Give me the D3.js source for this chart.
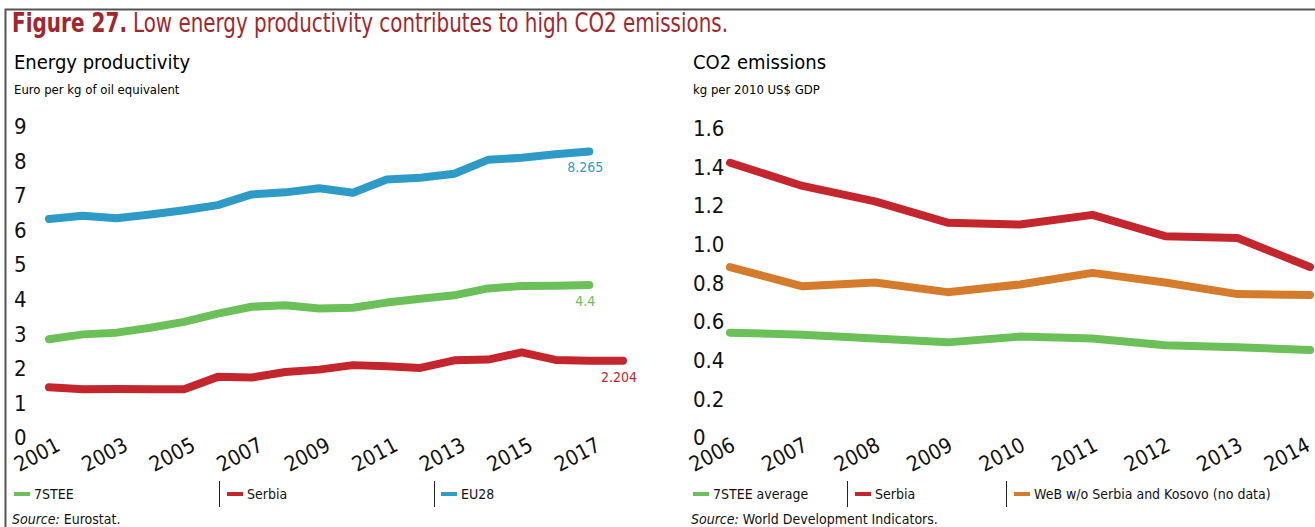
<!DOCTYPE html>
<html>
<head>
<meta charset="utf-8">
<script src="https://cdn.jsdelivr.net/npm/d3@7"></script>
<style>
  body { margin: 0; background: #fff; }
  svg text { font-family: "Liberation Sans Narrow", "DejaVu Sans Condensed", "Roboto Condensed", "Open Sans", sans-serif; font-stretch: condensed; }
</style>
</head>
<body>
<svg id="chart" width="1315" height="527"></svg>
<script>
// Energy productivity (left)
var epYears = d3.range(2001, 2019);
var epTicks = [2001, 2003, 2005, 2007, 2009, 2011, 2013, 2015, 2017];
var ep7STEE = [2.83, 2.97, 3.02, 3.16, 3.33, 3.57, 3.77, 3.81, 3.72, 3.74, 3.89, 4.0, 4.1, 4.3, 4.37, 4.38, 4.4];
var epSerbia = [1.44, 1.38, 1.39, 1.38, 1.38, 1.74, 1.72, 1.88, 1.95, 2.08, 2.05, 2.0, 2.22, 2.24, 2.45, 2.23, 2.21, 2.204];
var epEU28 = [6.31, 6.40, 6.33, 6.44, 6.56, 6.71, 7.02, 7.08, 7.2, 7.07, 7.45, 7.5, 7.62, 8.02, 8.08, 8.18, 8.265];
var epYTicks = d3.range(0, 10);

// CO2 emissions (right)
var coYears = d3.range(2006, 2015);
var co7STEE = [0.54, 0.53, 0.51, 0.49, 0.52, 0.51, 0.475, 0.465, 0.45];
var coSerbia = [1.42, 1.30, 1.22, 1.11, 1.10, 1.15, 1.04, 1.03, 0.88];
var coWeB = [0.88, 0.78, 0.80, 0.75, 0.79, 0.85, 0.80, 0.74, 0.735];
var coYTicks = [0, 0.2, 0.4, 0.6, 0.8, 1.0, 1.2, 1.4, 1.6];

const GREEN = "#6cc05a", RED = "#c4262e", BLUE = "#2e9ac6", ORANGE = "#d57c2c";
const TITLE_RED = "#a3262c";
const WIDTH = 1315;

let svg = d3.select("#chart");

// frame
svg.append("path")
  .attr("d", "M5.5,527 V9.5 H1315")
  .attr("fill", "none")
  .attr("stroke", "#555")
  .attr("stroke-width", 2);

// title, squeezed to the narrow width of the original face
svg.append("text")
  .attr("x", 12)
  .attr("y", 32)
  .attr("fill", TITLE_RED)
  .attr("textLength", 115)
  .attr("lengthAdjust", "spacingAndGlyphs")
  .style("font-size", "26px")
  .style("font-weight", "bold")
  .text("Figure 27.");

svg.append("text")
  .attr("x", 133)
  .attr("y", 32)
  .attr("fill", TITLE_RED)
  .attr("textLength", 595)
  .attr("lengthAdjust", "spacingAndGlyphs")
  .style("font-size", "26px")
  .text("Low energy productivity contributes to high CO2 emissions.");

function drawPanel({
  left, years, tickYears, yTicks, yDomain, xRange, yRange, series, legend, legendSeps,
  heading, unit, source, yFormat, xShift = -11
}) {
  let g = svg.append("g");

  g.append("text")
    .attr("x", left).attr("y", 69)
    .style("font-size", "20px")
    .text(heading);

  g.append("text")
    .attr("x", left).attr("y", 94)
    .style("font-size", "13px")
    .text(unit);

  let x = d3.scalePoint().domain(years).range(xRange);
  let y = d3.scaleLinear().domain(yDomain).range(yRange);

  // y axis
  let ya = g.append("g")
    .attr("transform", "translate(" + left + ",0)")
    .call(d3.axisRight(y).tickValues(yTicks).tickSize(0).tickPadding(0).tickFormat(yFormat));
  ya.select(".domain").remove();
  ya.selectAll("text")
    .attr("dy", "0.35em")
    .style("font-size", "22px")
    .style("font-family", null)
    .attr("fill", "#111");

  // x axis
  let xa = g.append("g")
    .attr("transform", "translate(0,445)")
    .call(d3.axisBottom(x).tickValues(tickYears).tickSize(0).tickPadding(0));
  xa.select(".domain").remove();
  xa.selectAll("text")
    .attr("text-anchor", "middle")
    .attr("y", 0)
    .attr("dy", 0)
    .attr("transform", "translate(" + xShift + ",16) rotate(-28)")
    .style("font-size", "21px")
    .style("font-family", null)
    .attr("fill", "#111");

  // keep rotated labels inside the picture
  xa.selectAll(".tick").each(function(d) {
    let r = this.getBoundingClientRect();
    if (r.right > WIDTH - 1) {
      let over = r.right - (WIDTH - 1);
      d3.select(this).select("text")
        .attr("transform", "translate(" + (xShift - over) + ",16) rotate(-28)");
    }
  });

  let line = d3.line()
    .x((d, i) => x(years[i]))
    .y(d => y(d));

  for (let s of series) {
    g.append("path")
      .datum(s.values)
      .attr("d", line)
      .attr("fill", "none")
      .attr("stroke", s.color)
      .attr("stroke-width", 8)
      .attr("stroke-linecap", "round")
      .attr("stroke-linejoin", "round");

    if (s.label) {
      let n = s.values.length - 1;
      g.append("text")
        .attr("x", x(years[n]) - 4)
        .attr("y", y(s.values[n]) + 21)
        .attr("text-anchor", "middle")
        .attr("fill", s.color)
        .style("font-size", "14px")
        .text(s.label);
    }
  }

  // legend
  let lg = g.selectAll(".legend-item")
    .data(legend)
    .enter()
    .append("g")
    .classed("legend-item", true)
    .attr("transform", d => "translate(" + d.x + ",494)");

  lg.append("line")
    .attr("x1", 0).attr("x2", 16)
    .attr("stroke", d => d.color)
    .attr("stroke-width", 4);

  lg.append("text")
    .attr("x", 20)
    .attr("dy", "0.35em")
    .style("font-size", "14px")
    .attr("fill", "#111")
    .text(d => d.name);

  g.selectAll(".legend-sep")
    .data(legendSeps)
    .enter()
    .append("line")
    .attr("x1", d => d).attr("x2", d => d)
    .attr("y1", 481).attr("y2", 507)
    .attr("stroke", "#222")
    .attr("stroke-width", 1);

  let src = g.append("text")
    .attr("x", left - 2).attr("y", 524)
    .style("font-size", "14px")
    .attr("fill", "#111");
  src.append("tspan").style("font-style", "italic").text("Source:");
  src.append("tspan").text(" " + source);
}

drawPanel({
  left: 14,
  years: epYears,
  tickYears: epTicks,
  yTicks: epYTicks,
  yDomain: [0, 9],
  xRange: [49, 623],
  yRange: [437, 126],
  yFormat: d3.format("d"),
  heading: "Energy productivity",
  unit: "Euro per kg of oil equivalent",
  source: "Eurostat.",
  xShift: -9,
  series: [
    { values: epEU28, color: BLUE, label: "8.265" },
    { values: ep7STEE, color: GREEN, label: "4.4" },
    { values: epSerbia, color: RED, label: "2.204" }
  ],
  legend: [
    { name: "7STEE", color: GREEN, x: 14 },
    { name: "Serbia", color: RED, x: 227 },
    { name: "EU28", color: BLUE, x: 441 }
  ],
  legendSeps: [219.5, 434.5]
});

drawPanel({
  left: 693,
  years: coYears,
  tickYears: coYears,
  yTicks: coYTicks,
  yDomain: [0, 1.6],
  xRange: [730, 1310],
  yRange: [437, 128],
  yFormat: d => d === 0 ? "0" : d3.format(".1f")(d),
  heading: "CO2 emissions",
  unit: "kg per 2010 US$ GDP",
  source: "World Development Indicators.",
  xShift: -15,
  series: [
    { values: co7STEE, color: GREEN },
    { values: coSerbia, color: RED },
    { values: coWeB, color: ORANGE }
  ],
  legend: [
    { name: "7STEE average", color: GREEN, x: 693 },
    { name: "Serbia", color: RED, x: 855 },
    { name: "WeB w/o Serbia and Kosovo (no data)", color: ORANGE, x: 1014 }
  ],
  legendSeps: [847.5, 1006.5]
});
</script>
</body>
</html>
